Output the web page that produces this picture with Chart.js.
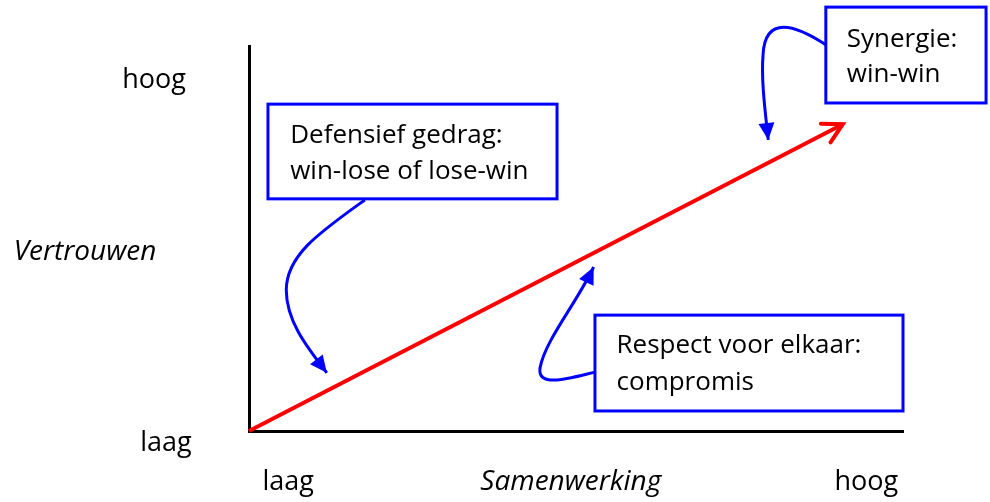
<!DOCTYPE html>
<html>
<head>
<meta charset="utf-8">
<script src="https://cdn.jsdelivr.net/npm/chart.js@4/dist/chart.umd.min.js"></script>
<style>
  html, body { margin: 0; padding: 0; background: #fff; }
  #wrap { width: 990px; height: 502px; }
</style>
</head>
<body>
<div id="wrap"><canvas id="diagram" width="990" height="502"></canvas></div>
<script>
// axis labels
const xTitle = 'Samenwerking';
const yTitle = 'Vertrouwen';
const xEnds = ['laag', 'hoog'];
const yEnds = ['laag', 'hoog'];

// the trend line: samenwerking vs vertrouwen (0 = laag, 1 = hoog)
const trendX = [0, 0.908];
const trendY = [0, 0.797];

// the three text boxes
const noteLines = [
  ['Defensief gedrag:', 'win-lose of lose-win'],
  ['Synergie:', 'win-win'],
  ['Respect voor elkaar:', 'compromis']
];

const FONT = '"Open Sans", "Noto Sans", sans-serif';
const BLUE = '#0000ff';
const RED = '#ff0000';

// layout of the annotations, in data units (x: 0..1, y: 0..1)
const boxes = [
  { x0: 0.029, x1: 0.471, y0: 0.849, y1: 0.603, tx: 0.063, ty: [0.748, 0.655] },
  { x0: 0.882, x1: 1.127, y0: 1.101, y1: 0.852, tx: 0.914, ty: [0.997, 0.906] },
  { x0: 0.529, x1: 1.0, y0: 0.301, y1: 0.052, tx: 0.562, ty: [0.202, 0.106] }
];

// blue curved arrows: start, then cubic segments [c1, c2, end]
const curves = [
  [[0.177, 0.600], [[0.109, 0.517], [0.057, 0.457], [0.057, 0.366]],
                   [[0.057, 0.288], [0.086, 0.223], [0.119, 0.151]]],
  [[0.882, 1.003], [[0.835, 1.055], [0.789, 1.081], [0.786, 0.977]],
                   [[0.783, 0.912], [0.789, 0.834], [0.794, 0.756]]],
  [[0.529, 0.153], [[0.492, 0.138], [0.440, 0.110], [0.445, 0.164]],
                   [[0.453, 0.236], [0.500, 0.330], [0.527, 0.426]]]
];

function blueArrowHead(ctx, fx, fy, tx, ty) {
  const a = Math.atan2(ty - fy, tx - fx);
  const len = 17, half = 8;
  ctx.beginPath();
  ctx.moveTo(tx, ty);
  ctx.lineTo(tx - len * Math.cos(a) + half * Math.sin(a), ty - len * Math.sin(a) - half * Math.cos(a));
  ctx.lineTo(tx - len * Math.cos(a) - half * Math.sin(a), ty - len * Math.sin(a) + half * Math.cos(a));
  ctx.closePath();
  ctx.fill();
}

const annotations = {
  id: 'annotations',
  afterDatasetsDraw(chart) {
    const ctx = chart.ctx;
    const sx = chart.scales.x, sy = chart.scales.y;
    const px = v => sx.getPixelForValue(v);
    const py = v => sy.getPixelForValue(v);
    ctx.save();

    // red chevron at the end of the trend line
    const n = trendX.length - 1;
    const ex = px(trendX[n]), ey = py(trendY[n]);
    const a = Math.atan2(ey - py(trendY[n - 1]), ex - px(trendX[n - 1]));
    ctx.strokeStyle = RED;
    ctx.lineWidth = 4;
    ctx.lineCap = 'round';
    ctx.beginPath();
    ctx.moveTo(ex - 22 * Math.cos(a - 0.5), ey - 22 * Math.sin(a - 0.5));
    ctx.lineTo(ex, ey);
    ctx.lineTo(ex - 22 * Math.cos(a + 0.5), ey - 22 * Math.sin(a + 0.5));
    ctx.stroke();

    // boxes with text
    ctx.lineCap = 'butt';
    ctx.font = '26px ' + FONT;
    ctx.textBaseline = 'alphabetic';
    boxes.forEach((b, i) => {
      ctx.fillStyle = '#fff';
      ctx.fillRect(px(b.x0), py(b.y0), px(b.x1) - px(b.x0), py(b.y1) - py(b.y0));
      ctx.strokeStyle = BLUE;
      ctx.lineWidth = 3;
      ctx.strokeRect(px(b.x0), py(b.y0), px(b.x1) - px(b.x0), py(b.y1) - py(b.y0));
      ctx.fillStyle = '#000';
      noteLines[i].forEach((t, j) => ctx.fillText(t, px(b.tx), py(b.ty[j])));
    });

    // blue curved arrows
    ctx.strokeStyle = BLUE;
    ctx.fillStyle = BLUE;
    ctx.lineWidth = 3;
    curves.forEach(c => {
      ctx.beginPath();
      ctx.moveTo(px(c[0][0]), py(c[0][1]));
      c.slice(1).forEach(s => ctx.bezierCurveTo(px(s[0][0]), py(s[0][1]), px(s[1][0]), py(s[1][1]), px(s[2][0]), py(s[2][1])));
      ctx.stroke();
      const last = c[c.length - 1];
      blueArrowHead(ctx, px(last[1][0]), py(last[1][1]), px(last[2][0]), py(last[2][1]));
    });

    // axis end labels and titles
    ctx.fillStyle = '#000';
    ctx.font = '27px ' + FONT;
    ctx.textAlign = 'center';
    ctx.fillText(xEnds[0], px(0.060), 490);
    ctx.fillText(xEnds[1], px(0.944), 490);
    ctx.fillText(yEnds[1], 154, py(0.892));
    ctx.fillText(yEnds[0], 166, py(-0.052));
    ctx.font = 'italic 28px ' + FONT;
    ctx.fillText(xTitle, px(0.492), 490);
    ctx.fillText(yTitle, 85, py(0.444));
    ctx.restore();
  }
};

new Chart(document.getElementById('diagram'), {
  type: 'scatter',
  data: {
    datasets: [{
      data: trendX.map((x, i) => ({ x: x, y: trendY[i] })),
      showLine: true,
      borderColor: RED,
      borderWidth: 4,
      pointRadius: 0,
      clip: false
    }]
  },
  options: {
    responsive: false,
    animation: false,
    devicePixelRatio: 1,
    layout: { padding: { left: 241, right: 87, top: 46, bottom: 63 } },
    plugins: { legend: { display: false }, tooltip: { enabled: false } },
    scales: {
      x: {
        type: 'linear', min: 0, max: 1,
        grid: { display: false },
        ticks: { display: false },
        border: { display: true, color: '#000', width: 3 }
      },
      y: {
        type: 'linear', min: 0, max: 1,
        grid: { display: false },
        ticks: { display: false },
        border: { display: true, color: '#000', width: 3 }
      }
    }
  },
  plugins: [annotations]
});
</script>
</body>
</html>
